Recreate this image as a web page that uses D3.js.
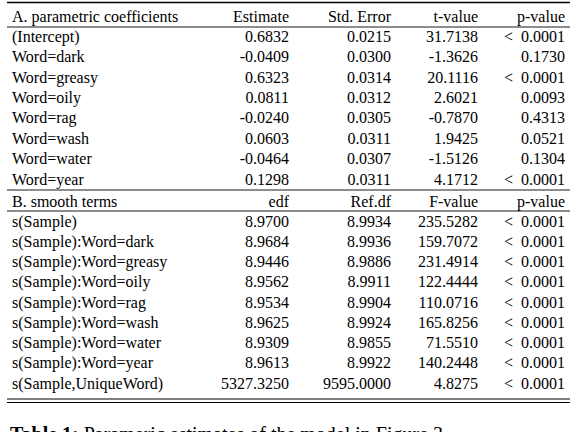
<!DOCTYPE html><html><head><meta charset="utf-8"><script src="https://cdn.jsdelivr.net/npm/d3@7"></script>
<style>body{margin:0;background:#fff} svg text{font-family:"Liberation Serif","DejaVu Serif","Times New Roman",serif;}</style></head><body><script>
const headA=["A. parametric coefficients","Estimate","Std. Error","t-value","p-value"];
const rowsA=[["(Intercept)","0.6832","0.0215","31.7138","< 0.0001"],
["Word=dark","-0.0409","0.0300","-1.3626","0.1730"],
["Word=greasy","0.6323","0.0314","20.1116","< 0.0001"],
["Word=oily","0.0811","0.0312","2.6021","0.0093"],
["Word=rag","-0.0240","0.0305","-0.7870","0.4313"],
["Word=wash","0.0603","0.0311","1.9425","0.0521"],
["Word=water","-0.0464","0.0307","-1.5126","0.1304"],
["Word=year","0.1298","0.0311","4.1712","< 0.0001"]];
const headB=["B. smooth terms","edf","Ref.df","F-value","p-value"];
const rowsB=[["s(Sample)","8.9700","8.9934","235.5282","< 0.0001"],
["s(Sample):Word=dark","8.9684","8.9936","159.7072","< 0.0001"],
["s(Sample):Word=greasy","8.9446","8.9886","231.4914","< 0.0001"],
["s(Sample):Word=oily","8.9562","8.9911","122.4444","< 0.0001"],
["s(Sample):Word=rag","8.9534","8.9904","110.0716","< 0.0001"],
["s(Sample):Word=wash","8.9625","8.9924","165.8256","< 0.0001"],
["s(Sample):Word=water","8.9309","8.9855","71.5510","< 0.0001"],
["s(Sample):Word=year","8.9613","8.9922","140.2448","< 0.0001"],
["s(Sample,UniqueWord)","5327.3250","9595.0000","4.8275","< 0.0001"]];
const colX=[12,289,391,478,565];
const svg=d3.select("body").append("svg").attr("width",578).attr("height",432)
 .style("font-size","16px");
const yA=d3.scaleLinear().domain([0,8]).range([16,179]);
const yB=d3.scaleLinear().domain([0,9]).range([201,383]);
function rows(data,y){data.forEach((r,i)=>r.forEach((c,j)=>{
 svg.append("text").attr("x",colX[j]).attr("y",y(i)).attr("dy","0.35em")
  .attr("text-anchor",j?"end":"start").text(c.replace("< ","<\u2002"));}));}
rows([headA,...rowsA],yA);rows([headB,...rowsB],yB);
const line=(y,w)=>svg.append("line").attr("x1",7).attr("x2",570).attr("y1",y).attr("y2",y).attr("stroke","#000").attr("stroke-width",w);
line(2.5,1.6);line(27,0.9);line(190,0.9);line(211,0.9);line(399,1);line(402.5,1);
const cap=svg.append("text").attr("x",10).attr("y",441).style("font-size","20px");
cap.append("tspan").attr("font-weight","bold").text("Table 1: ");
cap.append("tspan").text("Parameric estimates of the model in Figure 3");
</script></body></html>
